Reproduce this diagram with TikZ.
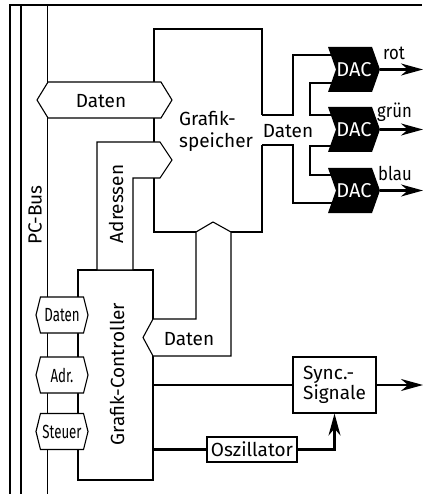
\documentclass[tikz,border=0pt]{standalone}
\usepackage{fontspec}
\setmainfont{Fira Sans}
\newfontfamily\narrowfont{Fira Sans}[FakeStretch=0.7]
\newfontfamily\colfont{Fira Sans}[FakeStretch=0.88]
\usetikzlibrary{arrows.meta, shapes.symbols}
\tikzset{
  wire/.style={line width=1.1pt},
  thk/.style={line width=2.3pt},
  arr/.style={thk, -{Stealth[length=22pt, width=12pt, inset=7pt]}},
  lbl/.style={inner sep=0pt, font=\fontsize{19}{22}\selectfont},
  nlbl/.style={inner sep=0pt, font=\fontsize{19}{22}\selectfont\colfont},
  hex/.style={signal, signal to=west and east, draw, wire, fill=white, inner sep=0pt, minimum height=36pt},
  dac/.style={signal, signal from=west, signal to=east, signal pointer angle=141, fill=black, text=white,
    inner sep=0pt, minimum width=52pt, minimum height=45pt, font=\fontsize{20}{22}\selectfont},
  box/.style={draw, wire, fill=white, align=left, font=\fontsize{19}{20.5}\selectfont},
}
\begin{document}
\begin{tikzpicture}[x=1pt, y=-1pt]
  \useasboundingbox (0,0) rectangle (431,494);
  % Rahmen und PC-Bus
  \draw[wire] (10,494) -- (10,5) -- (422,5);
  \draw[wire] (21,5) -- (21,494);
  \draw[wire] (47.5,5) -- (47.5,494);
  \node[lbl, rotate=90] (pcbus) at (35,215) {PC-Bus};
  % Grafikspeicher
  \draw[wire] (262,115) -- (262,29) -- (154,29) -- (154,232) -- (262,232) -- (262,145);
  \node[lbl, align=left, anchor=west] (gsp) at (179,131.5) {Grafik-\\speicher};
  % Grafik-Controller
  \node[draw, wire, minimum width=75pt, minimum height=210pt] (ctrl) at (115.5,375) {};
  \node[lbl, rotate=90] (ctrltxt) at (117,374) {Grafik-Controller};
  % Busse
  \draw[wire, fill=white] (97,270) -- (97,142) -- (160,142) -- (172,160) -- (160,178) -- (133,178) -- (133,270) -- cycle;
  \node[lbl, rotate=90] (adr) at (116,204) {Adressen};
  \draw[wire, fill=white] (196,232) -- (196,319) -- (153,319) -- (143,337.5) -- (153,356) -- (231,356) -- (231,232) -- (213,222) -- cycle;
  \node[lbl] (datC) at (189,339) {Daten};
  \node[hex, signal pointer angle=117, minimum width=135pt] (datA) at (104.5,100) {};
  \node[lbl] (datAtxt) at (101,101) {Daten};
  \node[hex, signal pointer angle=152, minimum width=52pt, font=\fontsize{19}{22}\selectfont\narrowfont] (datB) at (62,315) {Daten};
  \node[hex, signal pointer angle=152, minimum width=52pt, font=\fontsize{19}{22}\selectfont\narrowfont] (adrB) at (62,375) {Adr.};
  \node[hex, signal pointer angle=152, minimum width=52pt, font=\fontsize{19}{22}\selectfont\narrowfont] (steu) at (62,431.5) {Steuer};
  % DACs
  \node[dac] (dac1) at (354,69.5) {DAC};
  \node[dac] (dac2) at (354,129.5) {DAC};
  \node[dac] (dac3) at (354,190.5) {DAC};
  \draw[wire] (262,115) -- (293,115) -- (293,55) -- (dac1 |- 0,55);
  \draw[wire] (262,145) -- (293,145) -- (293,203) -- (dac3 |- 0,203);
  \node[lbl] (datR) at (288,131) {Daten};
  \draw[wire] (dac1 |- 0,83) -- (310,83) -- (310,115) -- (dac2 |- 0,115);
  \draw[wire] (dac2 |- 0,146) -- (310,146) -- (310,175) -- (dac3 |- 0,175);
  \coordinate (o1) at (423,69.5);
  \coordinate (o2) at (423,129.5);
  \coordinate (o3) at (423,190.5);
  \draw[arr] (dac1.east) -- (o1);
  \draw[arr] (dac2.east) -- (o2);
  \draw[arr] (dac3.east) -- (o3);
  \node[nlbl, anchor=base west] (rot) at (383,60) {rot};
  \node[nlbl, anchor=base west] (gruen) at (377,118) {grün};
  \node[nlbl, anchor=base west] (blau) at (378,181) {blau};
  % Sync und Oszillator
  \node[box, minimum width=83pt, minimum height=56pt] (sync) at (334.5,385) {Sync.-\\Signale};
  \node[box, minimum width=90pt, minimum height=25pt, inner sep=1pt] (osz) at (252,449.5) {Oszillator};
  \coordinate (o4) at (423,385);
  \draw[thk] (sync.west -| ctrl.east) -- (sync.west);
  \draw[arr] (sync.east) -- (o4);
  \draw[thk] (osz.west -| ctrl.east) -- (osz.west);
  \draw[arr] (osz.east) -| (sync.south);
\end{tikzpicture}
\end{document}
